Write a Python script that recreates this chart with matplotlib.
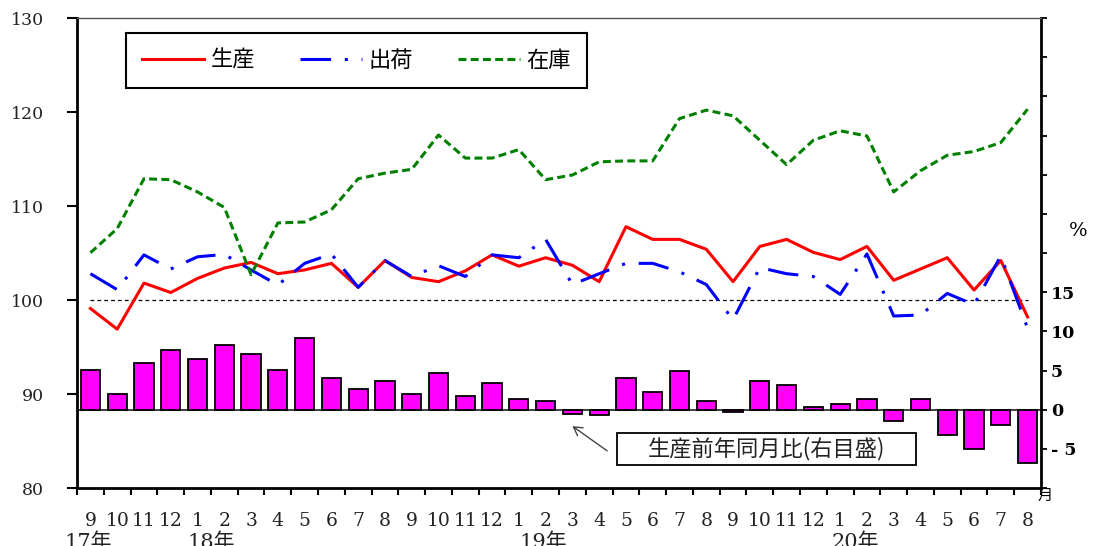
import matplotlib
matplotlib.use('Agg')
import matplotlib.pyplot as plt
from matplotlib.patches import Rectangle
import numpy as np

# 月ラベル (2017年9月〜2020年8月)
months = ['9', '10', '11', '12', '1', '2', '3', '4', '5', '6', '7', '8'] * 3
years = ['17年', '18年', '19年', '20年']
year_pos = [0.4, 5.0, 17.4, 29.05]

# 指数 (左目盛)
prod = [99.1, 96.9, 101.8, 100.8, 102.3, 103.4, 104.0, 102.8, 103.2, 103.9, 101.35, 104.2,
        102.4, 101.95, 103.1, 104.8, 103.6, 104.5, 103.7, 101.95, 107.8, 106.45, 106.45, 105.4,
        101.95, 105.7, 106.45, 105.07, 104.3, 105.7, 102.1, 103.3, 104.5, 101.06, 104.2, 98.2]
ship = [102.8, 101.1, 104.8, 103.3, 104.6, 104.85, 103.2, 101.6, 103.9, 104.9, 101.35, 104.2,
        102.5, 103.65, 102.5, 104.8, 104.5, 106.45, 101.65, 102.8, 103.9, 103.9, 103.0, 101.65,
        97.9, 103.45, 102.8, 102.5, 100.6, 104.9, 98.3, 98.4, 100.7, 99.5, 104.7, 97.0]
stock = [105.03, 107.6, 112.9, 112.8, 111.5, 109.85, 102.7, 108.2, 108.3, 109.6, 112.9, 113.5,
         113.9, 117.55, 115.1, 115.1, 116.0, 112.8, 113.3, 114.7, 114.8, 114.8, 119.3, 120.2,
         119.6, 117.0, 114.4, 117.0, 118.0, 117.45, 111.5, 113.75, 115.4, 115.8, 116.75, 120.3]

# 生産前年同月比 % (右目盛)
growth = [5.1, 2.0, 6.0, 7.6, 6.5, 8.3, 7.05, 5.1, 9.2, 4.1, 2.6, 3.6,
          2.0, 4.7, 1.8, 3.4, 1.3, 1.1, -0.55, -0.7, 4.1, 2.2, 4.9, 1.1,
          -0.35, 3.6, 3.1, 0.4, 0.7, 1.3, -1.45, 1.3, -3.2, -5.05, -1.96, -6.8]

right_labels = {15: '15', 10: '10', 5: '5', 0: '0', -5: '- 5'}

num_font = 'DejaVu Serif'
mix_font = ['DejaVu Serif', 'Noto Sans CJK JP']
jp_font = ['Noto Sans CJK JP', 'DejaVu Sans']

x = np.arange(len(months)) + 0.5

fig = plt.figure(figsize=(10.99, 5.46), dpi=100)
ax = fig.add_axes([0.0701, 0.1062, 0.8771, 0.8608])
ax2 = ax.twinx()

# 棒グラフ (右目盛)
ax2.bar(x, growth, width=0.72, color='#FF00FF', edgecolor='black', linewidth=1.3, zorder=2)
ax2.axhline(0, color='#333333', linewidth=1.3, zorder=1)
ax2.set_ylim(-10, 50)
ticks_r = np.arange(-10, 55, 5)
ax2.set_yticks(ticks_r)
ax2.set_yticklabels([right_labels.get(int(t), '') for t in ticks_r],
                    fontfamily=num_font, fontweight='bold', fontsize=12.5)
ax2.tick_params(axis='y', direction='out', length=4, width=1.3, pad=3)

# 折れ線 (左目盛)
ax.set_zorder(ax2.get_zorder() + 1)
ax.patch.set_visible(False)
ax.hlines(100, x[0], x[-1], colors='black', linestyles=(0, (3, 2.5)), linewidth=0.9)
ax.plot(x, prod, color='#FF0000', linewidth=2.2, label='生産')
ax.plot(x, ship, color='#0000FF', linewidth=2.2, linestyle=(0, (10, 4.5, 1, 4.5)), label='出荷')
ax.plot(x, stock, color='#008000', linewidth=2.2, linestyle=(0, (2.6, 1.4)), label='在庫')

ax.set_xlim(0, len(months))
ax.set_ylim(80, 130)
ax.set_yticks(np.arange(80, 131, 10))
ax.set_yticklabels([str(v) for v in range(80, 131, 10)], fontfamily=num_font, fontsize=12.5,
                   color='#222222')
ax.tick_params(axis='y', direction='out', length=7, width=1.5, pad=17)

ax.set_xticks(np.arange(len(months) + 1))
ax.set_xticklabels([])
ax.tick_params(axis='x', which='major', direction='out', length=5, width=1.5)
ax.set_xticks(x, minor=True)
ax.set_xticklabels(months, minor=True, fontfamily=num_font, fontsize=13.5, color='#222222')
ax.tick_params(axis='x', which='minor', length=0, pad=17)

for sp in ['left', 'bottom']:
    ax.spines[sp].set_linewidth(2)
ax.spines['right'].set_visible(False)
ax.spines['top'].set_linewidth(1)
ax.spines['top'].set_color('#555555')
ax2.spines['right'].set_linewidth(2)
for sp in ['left', 'bottom', 'top']:
    ax2.spines[sp].set_visible(False)

for yl, yp in zip(years, year_pos):
    ax.text(yp, -0.094, yl, transform=ax.get_xaxis_transform(), ha='center', va='top',
            fontfamily=mix_font, fontsize=15, color='#222222')

leg = ax.legend(loc='upper left', bbox_to_anchor=(0.0508, 0.968), ncol=3,
                prop={'family': jp_font, 'size': 16}, handlelength=2.8, handletextpad=0.3,
                columnspacing=2.0, borderpad=0.72, borderaxespad=0, fancybox=False,
                framealpha=1, edgecolor='black')
leg.get_frame().set_linewidth(1.5)

# 注記 (枠と矢印)
ax2.add_patch(Rectangle((0.560, 0.049), 0.310, 0.068, transform=ax2.transAxes,
                        facecolor='white', edgecolor='black', linewidth=1.3, zorder=3))
ax2.text(0.715, 0.083, '生産前年同月比(右目盛)', transform=ax2.transAxes, ha='center',
         va='center', fontfamily=jp_font, fontsize=16, color='#222222', zorder=4)
ax2.annotate('', xy=(18.5, -2.1), xytext=(0.550, 0.079), textcoords='axes fraction',
             arrowprops=dict(arrowstyle='->,head_length=0.6,head_width=0.35', color='#444444',
                             lw=1, shrinkA=0, shrinkB=0))

fig.text(1078 / 1099, 1 - 231 / 546, '%', ha='center', va='center', fontfamily=num_font,
         fontsize=14)
fig.text(1045 / 1099, 1 - 495 / 546, '月', ha='center', va='center', fontfamily=jp_font,
         fontsize=11)

fig.savefig('out.png', dpi=100)
plt.close(fig)
